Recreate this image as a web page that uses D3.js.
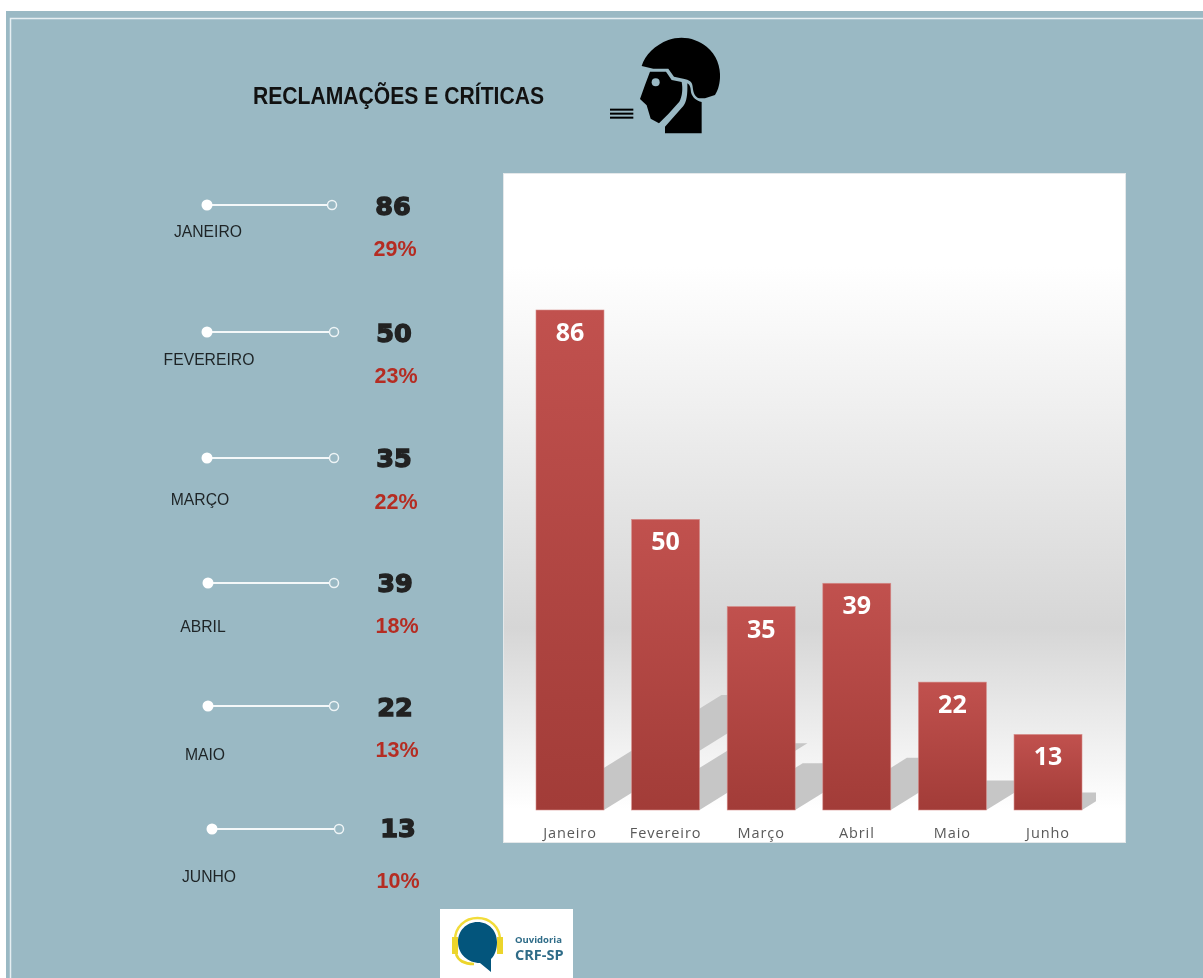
<!DOCTYPE html>
<html>
<head>
<meta charset="utf-8">
<script src="https://cdn.jsdelivr.net/npm/d3@7"></script>
<style>
  html, body { margin: 0; padding: 0; background: #fff; }
  svg { display: block; filter: blur(0.45px); }
</style>
</head>
<body>
<div id="chart"></div>
<script>
// values
var months = ["Janeiro", "Fevereiro", "Março", "Abril", "Maio", "Junho"];
var monthsUpper = ["JANEIRO", "FEVEREIRO", "MARÇO", "ABRIL", "MAIO", "JUNHO"];
var counts = [86, 50, 35, 39, 22, 13];
var percents = ["29%", "23%", "22%", "18%", "13%", "10%"];

// the left hand list is hand placed in the original, rows are not regular
var lineY = [205, 332, 458, 583, 706, 829];
var lineX1 = [207, 207, 207, 208, 208, 212];
var lineX2 = [332, 334, 334, 334, 334, 339];
var labelX = [208, 209, 200, 203, 205, 209];
var labelY = [231, 359, 499, 626, 754, 876];
var numX = [393, 394, 394, 395, 395, 398];
var numY = [206, 333, 458, 583, 707, 828];
var pctX = [395, 396, 396, 397, 397, 398];
var pctY = [248, 375, 501, 625, 749, 880];

var width = 1203;
var height = 978;
var panelColor = "#9ab9c4";
var redText = "#b52c22";

var svg = d3.select("#chart").append("svg")
    .attr("width", width)
    .attr("height", height);

var defs = svg.append("defs");

var bgGrad = defs.append("linearGradient")
    .attr("id", "plotBg")
    .attr("x1", 0).attr("y1", 0).attr("x2", 0).attr("y2", 1);
bgGrad.append("stop").attr("offset", "0.14").attr("stop-color", "#ffffff");
bgGrad.append("stop").attr("offset", "0.68").attr("stop-color", "#d6d6d6");
bgGrad.append("stop").attr("offset", "0.95").attr("stop-color", "#ffffff");

var barGrad = defs.append("linearGradient")
    .attr("id", "barFill")
    .attr("x1", 0).attr("y1", 0).attr("x2", 0).attr("y2", 1);
barGrad.append("stop").attr("offset", "0").attr("stop-color", "#c1514e");
barGrad.append("stop").attr("offset", "1").attr("stop-color", "#a23c38");

defs.append("clipPath").attr("id", "plotClip")
  .append("rect")
    .attr("x", 503).attr("y", 173).attr("width", 593).attr("height", 668);

// panel
svg.append("rect")
    .attr("x", 6).attr("y", 11)
    .attr("width", width - 6).attr("height", height - 11)
    .attr("fill", panelColor);
svg.append("path")
    .attr("d", "M10.5," + height + "V18.5H" + width)
    .attr("fill", "none")
    .attr("stroke", "#e6eff2")
    .attr("stroke-width", 1.5);

// title and icon
svg.append("text")
    .attr("x", 253).attr("y", 104)
    .attr("textLength", 291)
    .attr("lengthAdjust", "spacingAndGlyphs")
    .attr("font-family", "'Liberation Sans', sans-serif")
    .attr("font-weight", "bold")
    .attr("font-size", "24px")
    .attr("fill", "#111")
    .text("RECLAMAÇÕES E CRÍTICAS");

var icon = svg.append("g")
    .attr("transform", "translate(600,30) scale(0.3333)")
    .attr("fill", "#000");
icon.append("path")
    .attr("d", "M125,108 C135,75 165,45 205,30 C245,15 290,25 320,50 C350,75 362,110 360,145 C358,170 352,185 345,195 L315,205 L297,205 C285,200 280,190 278,170 C277,155 268,150 250,146 L222,140 L205,116 L160,116 Z");
icon.append("path")
    .attr("d", "M150,125 L198,125 L215,150 L245,156 C249,175 247,200 238,215 L205,252 L177,280 L152,266 L140,226 L120,207 L135,165 Z");
icon.append("path")
    .attr("d", "M195,310 L195,290 L250,228 C260,215 263,195 262,160 C271,165 272,175 273,187 C277,203 290,213 305,216 L305,310 Z");
icon.append("circle")
    .attr("cx", 167).attr("cy", 157).attr("r", 12)
    .attr("fill", panelColor);
icon.selectAll("rect")
    .data([236, 248, 260])
  .enter().append("rect")
    .attr("x", 30).attr("y", function(d) { return d; })
    .attr("width", 70).attr("height", 6);

// left list
var rows = svg.append("g").selectAll("g")
    .data(months)
  .enter().append("g");

rows.append("line")
    .attr("x1", function(d, i) { return lineX1[i]; })
    .attr("x2", function(d, i) { return lineX2[i]; })
    .attr("y1", function(d, i) { return lineY[i]; })
    .attr("y2", function(d, i) { return lineY[i]; })
    .attr("stroke", "#f4f8f9")
    .attr("stroke-width", 2);
rows.append("circle")
    .attr("cx", function(d, i) { return lineX1[i]; })
    .attr("cy", function(d, i) { return lineY[i]; })
    .attr("r", 5.5)
    .attr("fill", "#fff");
rows.append("circle")
    .attr("cx", function(d, i) { return lineX2[i]; })
    .attr("cy", function(d, i) { return lineY[i]; })
    .attr("r", 4.5)
    .attr("fill", panelColor)
    .attr("stroke", "#eef4f6")
    .attr("stroke-width", 1.5);

// no narrow font here, so the labels are squeezed to the original width
rows.append("text")
    .attr("x", function(d, i) { return labelX[i]; })
    .attr("y", function(d, i) { return labelY[i]; })
    .attr("dy", "0.36em")
    .attr("text-anchor", "middle")
    .attr("font-family", "'Liberation Sans', sans-serif")
    .attr("font-size", "17px")
    .attr("fill", "#1e2426")
    .text(function(d, i) { return monthsUpper[i]; })
    .attr("textLength", function() { return this.getComputedTextLength() * 0.925; })
    .attr("lengthAdjust", "spacingAndGlyphs");

rows.append("text")
    .attr("x", function(d, i) { return numX[i]; })
    .attr("y", function(d, i) { return numY[i]; })
    .attr("dy", "0.36em")
    .attr("text-anchor", "middle")
    .attr("font-family", "'DejaVu Sans', sans-serif")
    .attr("font-weight", "bold")
    .attr("font-size", "25.5px")
    .attr("fill", "#222")
    .attr("stroke", "#222")
    .attr("stroke-width", 1.4)
    .text(function(d, i) { return counts[i]; });

rows.append("text")
    .attr("x", function(d, i) { return pctX[i]; })
    .attr("y", function(d, i) { return pctY[i]; })
    .attr("dy", "0.36em")
    .attr("text-anchor", "middle")
    .attr("font-family", "'Liberation Sans', sans-serif")
    .attr("font-weight", "bold")
    .attr("font-size", "21.5px")
    .attr("fill", redText)
    .text(function(d, i) { return percents[i]; });

// chart box
svg.append("rect")
    .attr("x", 503.5).attr("y", 173.5)
    .attr("width", 622).attr("height", 669)
    .attr("fill", "url(#plotBg)")
    .attr("stroke", "#e4e8ea");

var x = d3.scaleBand()
    .domain(months)
    .range([536, 1082])
    .paddingInner(0.289)
    .paddingOuter(0);

var y = d3.scaleLinear()
    .domain([0, 86])
    .range([810, 310]);

// the shadows are the bars sheared backwards to the right
var shadowHeight = 0.23;
var shadowSlope = 0.62;
svg.append("g")
    .attr("clip-path", "url(#plotClip)")
  .selectAll("path")
    .data(counts)
  .enter().append("path")
    .attr("d", function(d, i) {
      var x0 = x(months[i]);
      var h = (y(0) - y(d)) * shadowHeight;
      var dx = h / shadowSlope;
      return "M" + x0 + "," + y(0) +
        "L" + (x0 + x.bandwidth()) + "," + y(0) +
        "L" + (x0 + x.bandwidth() + dx) + "," + (y(0) - h) +
        "L" + (x0 + dx) + "," + (y(0) - h) + "Z";
    })
    .attr("fill", "#c6c6c6");

svg.selectAll(".bar")
    .data(counts)
  .enter().append("rect")
    .attr("class", "bar")
    .attr("x", function(d, i) { return x(months[i]); })
    .attr("y", function(d) { return y(d); })
    .attr("width", x.bandwidth())
    .attr("height", function(d) { return y(0) - y(d); })
    .attr("fill", "url(#barFill)")
    .attr("stroke", "#d68e8b")
    .attr("stroke-width", 0.6);

svg.selectAll(".barLabel")
    .data(counts)
  .enter().append("text")
    .attr("class", "barLabel")
    .attr("x", function(d, i) { return x(months[i]) + x.bandwidth() / 2; })
    .attr("y", function(d) { return y(d) + 22; })
    .attr("dy", "0.36em")
    .attr("text-anchor", "middle")
    .attr("font-family", "'Open Sans', sans-serif")
    .attr("font-weight", "bold")
    .attr("font-size", "25px")
    .attr("fill", "#fff")
    .text(function(d) { return d; });

var xAxis = svg.append("g")
    .attr("transform", "translate(0,810)")
    .call(d3.axisBottom(x).tickSize(0).tickPadding(18));
xAxis.select(".domain").remove();
xAxis.selectAll("text")
    .attr("font-family", "'Open Sans', sans-serif")
    .attr("font-size", "14.5px")
    .attr("letter-spacing", "0.9px")
    .attr("fill", "#595959");

// logo
var logo = svg.append("g");
logo.append("rect")
    .attr("x", 440).attr("y", 909)
    .attr("width", 133).attr("height", 69)
    .attr("fill", "#fff");
logo.append("path")
    .attr("d", "M455,940 C455,927 465,918 477.5,918 C490,918 500,927 500,940")
    .attr("fill", "none")
    .attr("stroke", "#f2dc3a")
    .attr("stroke-width", 2.5);
logo.append("rect")
    .attr("x", 452).attr("y", 937).attr("width", 6).attr("height", 17)
    .attr("fill", "#ecd52b");
logo.append("rect")
    .attr("x", 497).attr("y", 937).attr("width", 6).attr("height", 17)
    .attr("fill", "#ecd52b");
logo.append("path")
    .attr("d", "M456,954 C458,960 464,964 474,964")
    .attr("fill", "none")
    .attr("stroke", "#ecd52b")
    .attr("stroke-width", 2.5);
logo.append("path")
    .attr("d", "M477.5,922 C466,922 458,931 458,942 C458,954 468,963 480,963 L491,972 L491,959 C495,955 497,949 497,942 C497,931 489,922 477.5,922 Z")
    .attr("fill", "#03557c");
logo.append("text")
    .attr("x", 515).attr("y", 943)
    .attr("font-family", "'Open Sans', sans-serif")
    .attr("font-weight", "bold")
    .attr("font-size", "9.5px")
    .attr("fill", "#2f6c88")
    .text("Ouvidoria");
logo.append("text")
    .attr("x", 515).attr("y", 960)
    .attr("font-family", "'Open Sans', sans-serif")
    .attr("font-weight", "bold")
    .attr("font-size", "14.5px")
    .attr("fill", "#2f6c88")
    .text("CRF-SP");
</script>
</body>
</html>
